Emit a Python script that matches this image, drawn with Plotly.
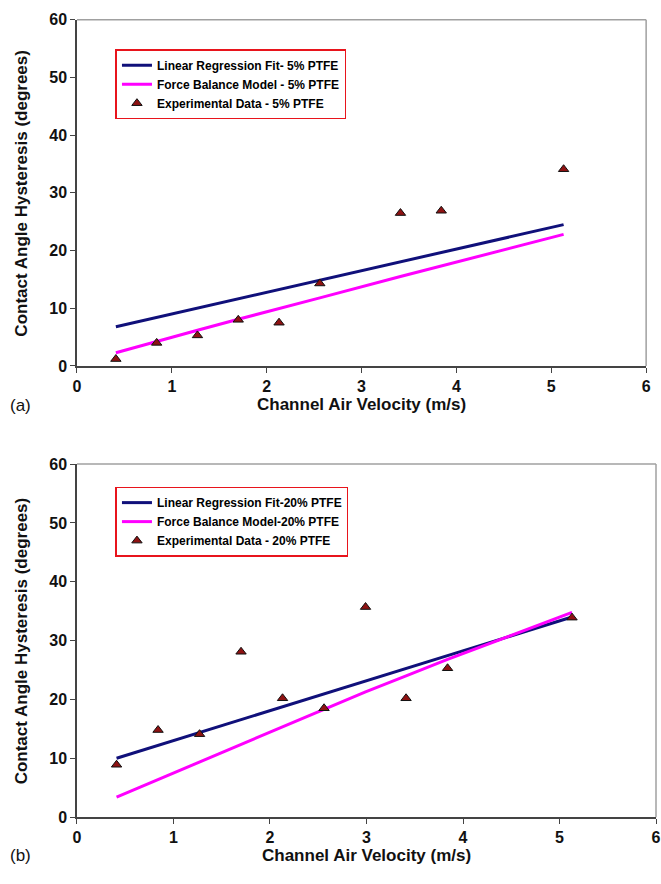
import plotly.graph_objects as go

W, H = 661, 884

# ---------- data: panel (a) 5% PTFE ----------
vel_a = [0.41, 0.84, 1.27, 1.70, 2.13, 2.56, 3.41, 3.84, 5.13]
exp_a = [1.2, 4.0, 5.3, 8.0, 7.5, 14.3, 26.5, 26.9, 34.1]
fit_x_a = [0.41, 5.13]
fit_y_a = [6.8, 24.5]
model_x_a = [0.41, 0.84, 1.27, 1.70, 2.13, 2.56, 3.41, 3.84, 5.13]
model_y_a = [2.3, 4.3, 6.2, 8.1, 9.9, 11.8, 15.5, 17.3, 22.8]

# ---------- data: panel (b) 20% PTFE ----------
vel_b = [0.41, 0.84, 1.27, 1.70, 2.13, 2.56, 2.99, 3.41, 3.84, 5.13]
exp_b = [8.9, 14.8, 14.1, 28.1, 20.2, 18.5, 35.7, 20.2, 25.3, 33.9]
fit_x_b = [0.41, 5.13]
fit_y_b = [10.0, 34.0]
model_x_b = [0.41, 0.84, 1.27, 1.70, 2.13, 2.56, 2.99, 3.41, 3.84, 5.13]
model_y_b = [3.4, 6.4, 9.4, 12.4, 15.4, 18.4, 21.3, 24.0, 26.8, 34.8]

x_ticks = [0, 1, 2, 3, 4, 5, 6]
y_ticks = [0, 10, 20, 30, 40, 50, 60]

names_a = ["Linear Regression Fit- 5% PTFE", "Force Balance Model - 5% PTFE",
           "Experimental Data - 5% PTFE"]
names_b = ["Linear Regression Fit-20% PTFE", "Force Balance Model-20% PTFE",
           "Experimental Data - 20% PTFE"]

FONT = "Liberation Sans, Arial, sans-serif"
BLUE = "#10107a"
MAGENTA = "#ff00ff"
MARK = "#8e1212"

fig = go.Figure()


def add_panel(fx, fy, mx, my, vx, vy, names, xa, ya, leg):
    fig.add_trace(go.Scatter(x=fx, y=fy, mode="lines", name=names[0],
                             line=dict(color=BLUE, width=3),
                             xaxis=xa, yaxis=ya, legend=leg))
    fig.add_trace(go.Scatter(x=mx, y=my, mode="lines", name=names[1],
                             line=dict(color=MAGENTA, width=3),
                             xaxis=xa, yaxis=ya, legend=leg))
    fig.add_trace(go.Scatter(x=vx, y=vy, mode="markers", name=names[2],
                             marker=dict(symbol="triangle-up", size=9, color=MARK,
                                         line=dict(color="#111111", width=1)),
                             xaxis=xa, yaxis=ya, legend=leg))


add_panel(fit_x_a, fit_y_a, model_x_a, model_y_a, vel_a, exp_a, names_a, "x", "y", "legend")
add_panel(fit_x_b, fit_y_b, model_x_b, model_y_b, vel_b, exp_b, names_b, "x2", "y2", "legend2")

# pixel geometry
ax_left = 74
a_right, a_top, a_bot = 651, 12, 365
b_right, b_top, b_bot = 661, 465, 825


def px(x):
    return x / W


def py(y):
    return 1 - y / H


xcommon = dict(range=[0, 6], tickvals=x_ticks, ticks="outside", ticklen=5,
               tickcolor="#444", showline=True, linecolor="#444", linewidth=1.5,
               showgrid=False, zeroline=False,
               tickfont=dict(family=FONT, size=16, color="#111", weight="bold"))
ycommon = dict(range=[0, 60], tickvals=y_ticks, ticks="outside", ticklen=5,
               tickcolor="#444", showline=True, linecolor="#444", linewidth=1.5,
               showgrid=False, zeroline=False,
               tickfont=dict(family=FONT, size=16, color="#111", weight="bold"))

legcommon = dict(bgcolor="white", bordercolor="#e8141c", borderwidth=1.5,
                 font=dict(family=FONT, size=12, color="#000", weight="bold"),
                 xanchor="left", yanchor="top", tracegroupgap=0, itemwidth=30)

fig.update_layout(
    width=W, height=H,
    margin=dict(l=0, r=0, t=0, b=0),
    paper_bgcolor="white", plot_bgcolor="white",
    xaxis=dict(domain=[px(ax_left), px(a_right)], anchor="y", **xcommon),
    yaxis=dict(domain=[py(a_bot), py(a_top)], anchor="x", **ycommon),
    xaxis2=dict(domain=[px(ax_left), px(b_right)], anchor="y2", **xcommon),
    yaxis2=dict(domain=[py(b_bot), py(b_top)], anchor="x2", **ycommon),
    legend=dict(x=px(113), y=py(42), **legcommon),
    legend2=dict(x=px(113), y=py(488), **legcommon),
    showlegend=True,
)

# light grey frame on top/right of the plot areas
for xr, yr in (("x", "y"), ("x2", "y2")):
    fig.add_shape(type="line", xref=f"{xr} domain", yref=f"{yr} domain",
                  x0=0, x1=1, y0=1, y1=1, line=dict(color="#a0a0a0", width=1.5), layer="below")
    fig.add_shape(type="line", xref=f"{xr} domain", yref=f"{yr} domain",
                  x0=1, x1=1, y0=0, y1=1, line=dict(color="#a0a0a0", width=1.5), layer="below")

title_font = dict(family=FONT, size=17, color="#111", weight="bold")
ann = []
ann.append(dict(text="Contact Angle Hysteresis (degrees)", textangle=-90,
                x=px(18), y=py((a_top + a_bot) / 2), xref="paper", yref="paper",
                xanchor="center", yanchor="middle", showarrow=False, font=title_font))
ann.append(dict(text="Contact Angle Hysteresis (degrees)", textangle=-90,
                x=px(18), y=py((b_top + b_bot) / 2), xref="paper", yref="paper",
                xanchor="center", yanchor="middle", showarrow=False, font=title_font))
ann.append(dict(text="Channel Air Velocity (m/s)",
                x=px((ax_left + a_right) / 2), y=py(404), xref="paper", yref="paper",
                xanchor="center", yanchor="middle", showarrow=False, font=title_font))
ann.append(dict(text="Channel Air Velocity (m/s)",
                x=px((ax_left + b_right) / 2), y=py(864), xref="paper", yref="paper",
                xanchor="center", yanchor="middle", showarrow=False, font=title_font))
ann.append(dict(text="(a)", x=px(4), y=py(405), xref="paper", yref="paper",
                xanchor="left", yanchor="middle", showarrow=False,
                font=dict(family=FONT, size=17, color="#111")))
ann.append(dict(text="(b)", x=px(4), y=py(864), xref="paper", yref="paper",
                xanchor="left", yanchor="middle", showarrow=False,
                font=dict(family=FONT, size=17, color="#111")))
fig.update_layout(annotations=ann)

fig.write_html("out.html",
               config={"displayModeBar": False},
               post_script="document.body.style.margin='0px';"
                           "document.documentElement.style.overflow='hidden';")
